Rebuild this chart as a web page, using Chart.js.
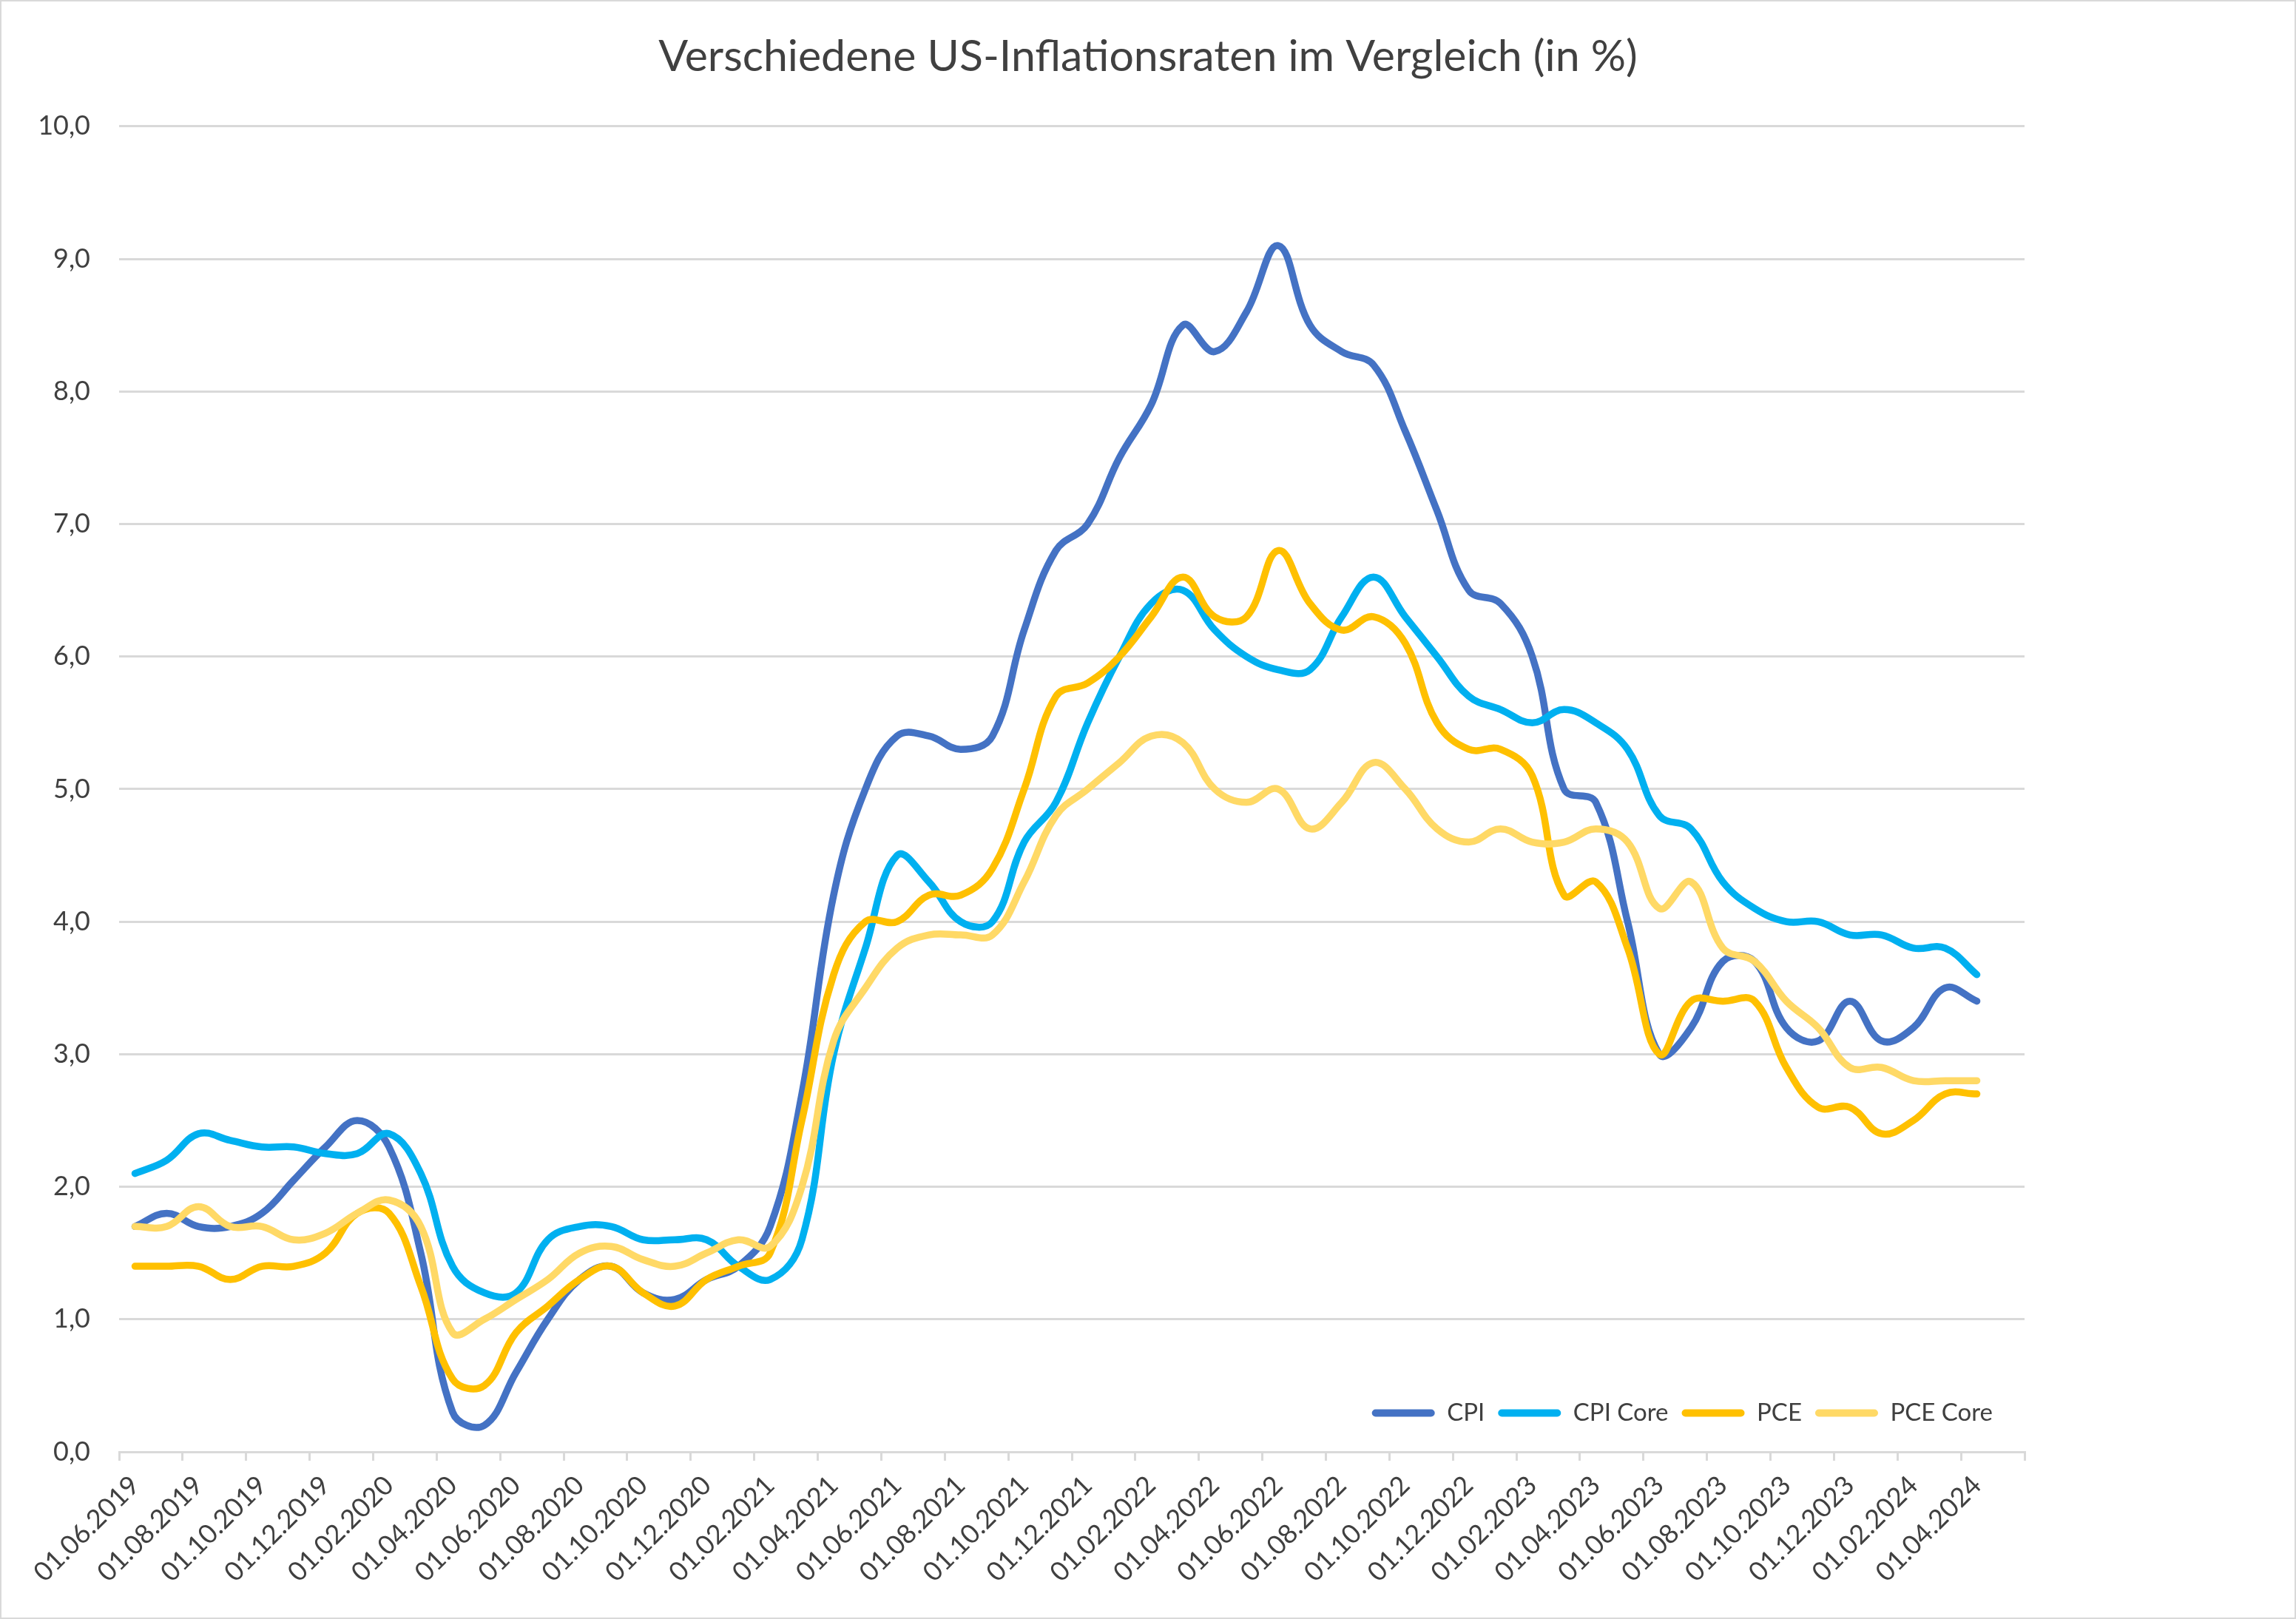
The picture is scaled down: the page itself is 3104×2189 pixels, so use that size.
<!DOCTYPE html>
<html>
<head>
<meta charset="utf-8">
<title>Verschiedene US-Inflationsraten im Vergleich</title>
<script src="https://cdn.jsdelivr.net/npm/chart.js@4.4.1/dist/chart.umd.min.js"></script>
<style>
  html, body { margin: 0; padding: 0; background: #fff; }
  #wrap { position: relative; width: 3104px; height: 2189px; }
  #wrap::after { content: ""; position: absolute; left: 0; top: 0; right: 0; bottom: 0; border: 2px solid #d9d9d9; pointer-events: none; }
  canvas { display: block; }
</style>
</head>
<body>
<div id="wrap"><canvas id="inflationChart" width="3104" height="2189"></canvas></div>
<script>
// Monatswerte Juni 2019 - April 2024, Veraenderung zum Vorjahresmonat in %
const months = [
  '01.06.2019', '01.07.2019', '01.08.2019', '01.09.2019', '01.10.2019', '01.11.2019', '01.12.2019',
  '01.01.2020', '01.02.2020', '01.03.2020', '01.04.2020', '01.05.2020', '01.06.2020',
  '01.07.2020', '01.08.2020', '01.09.2020', '01.10.2020', '01.11.2020', '01.12.2020',
  '01.01.2021', '01.02.2021', '01.03.2021', '01.04.2021', '01.05.2021', '01.06.2021',
  '01.07.2021', '01.08.2021', '01.09.2021', '01.10.2021', '01.11.2021', '01.12.2021',
  '01.01.2022', '01.02.2022', '01.03.2022', '01.04.2022', '01.05.2022', '01.06.2022',
  '01.07.2022', '01.08.2022', '01.09.2022', '01.10.2022', '01.11.2022', '01.12.2022',
  '01.01.2023', '01.02.2023', '01.03.2023', '01.04.2023', '01.05.2023', '01.06.2023',
  '01.07.2023', '01.08.2023', '01.09.2023', '01.10.2023', '01.11.2023', '01.12.2023',
  '01.01.2024', '01.02.2024', '01.03.2024', '01.04.2024', '01.05.2024'
];

const cpi = [
  1.7, 1.8, 1.7, 1.7, 1.8, 2.05, 2.3,
  2.5, 2.3, 1.5, 0.3, 0.2, 0.6, 1.0, 1.3, 1.4, 1.2, 1.15, 1.3,
  1.4, 1.7, 2.7, 4.2, 5.0, 5.4, 5.4, 5.3, 5.4, 6.2, 6.8, 7.0,
  7.5, 7.9, 8.5, 8.3, 8.6, 9.1, 8.5, 8.3, 8.2, 7.7, 7.1, 6.5,
  6.4, 6.0, 5.0, 4.9, 4.0, 3.0, 3.2, 3.7, 3.7, 3.2, 3.1, 3.4,
  3.1, 3.2, 3.5, 3.4
];
const cpiCore = [
  2.1, 2.2, 2.4, 2.35, 2.3, 2.3, 2.25,
  2.25, 2.4, 2.1, 1.4, 1.2, 1.2, 1.6, 1.7, 1.7, 1.6, 1.6, 1.6,
  1.4, 1.3, 1.6, 3.0, 3.8, 4.5, 4.3, 4.0, 4.0, 4.6, 4.9, 5.5,
  6.0, 6.4, 6.5, 6.2, 6.0, 5.9, 5.9, 6.3, 6.6, 6.3, 6.0, 5.7,
  5.6, 5.5, 5.6, 5.5, 5.3, 4.8, 4.7, 4.3, 4.1, 4.0, 4.0, 3.9,
  3.9, 3.8, 3.8, 3.6
];
const pce = [
  1.4, 1.4, 1.4, 1.3, 1.4, 1.4, 1.5,
  1.8, 1.8, 1.25, 0.55, 0.5, 0.9, 1.1, 1.3, 1.4, 1.2, 1.1, 1.3,
  1.4, 1.5, 2.5, 3.6, 4.0, 4.0, 4.2, 4.2, 4.4, 5.0, 5.7, 5.8,
  6.0, 6.3, 6.6, 6.3, 6.3, 6.8, 6.4, 6.2, 6.3, 6.1, 5.5, 5.3,
  5.3, 5.1, 4.2, 4.3, 3.8, 3.0, 3.4, 3.4, 3.4, 2.9, 2.6, 2.6,
  2.4, 2.5, 2.7, 2.7
];
const pceCore = [
  1.7, 1.7, 1.85, 1.7, 1.7, 1.6, 1.65,
  1.8, 1.9, 1.7, 0.9, 1.0, 1.15, 1.3, 1.5, 1.55, 1.45, 1.4, 1.5,
  1.6, 1.55, 2.0, 3.1, 3.5, 3.8, 3.9, 3.9, 3.9, 4.3, 4.8, 5.0,
  5.2, 5.4, 5.35, 5.0, 4.9, 5.0, 4.7, 4.9, 5.2, 5.0, 4.7, 4.6,
  4.7, 4.6, 4.6, 4.7, 4.6, 4.1, 4.3, 3.8, 3.7, 3.4, 3.2, 2.9,
  2.9, 2.8, 2.8, 2.8
];

const seriesNames = ['CPI', 'CPI Core', 'PCE', 'PCE Core'];
const seriesColors = ['#4472C4', '#00B0F0', '#FFC000', '#FFD966'];
const yTicks = [0, 1, 2, 3, 4, 5, 6, 7, 8, 9, 10];

const textColor = '#404040';
const gridColor = '#d9d9d9';

Chart.defaults.font.family = 'Lato, "Open Sans", sans-serif';
Chart.defaults.color = textColor;

function makeSet(i, values) {
  return {
    label: seriesNames[i],
    data: values,
    borderColor: seriesColors[i],
    backgroundColor: seriesColors[i],
    borderWidth: 9.5,
    borderCapStyle: 'round',
    borderJoinStyle: 'round',
    pointRadius: 0,
    pointHoverRadius: 0,
    tension: 0.4,
    fill: false,
    order: 4 - i // spaetere Reihe liegt oben, wie in Excel
  };
}

// Titel ueber die ganze Breite zentrieren, Legende unten rechts im Diagrammbereich
const placeBoxes = {
  id: 'placeBoxes',
  afterLayout(chart) {
    const tb = chart.titleBlock;
    tb.left = 0;
    tb.right = chart.width;
    tb.width = chart.width;

    const lg = chart.legend;
    const area = chart.chartArea;
    lg.left = area.left;
    lg.right = area.right - 25;
    lg.top = area.bottom - 87;
    lg.bottom = lg.top + 60;
    lg.width = lg.right - lg.left;
    lg.height = lg.bottom - lg.top;
  }
};

const ctx = document.getElementById('inflationChart').getContext('2d');
new Chart(ctx, {
  type: 'line',
  data: {
    labels: months,
    datasets: [
      makeSet(0, cpi),
      makeSet(1, cpiCore),
      makeSet(2, pce),
      makeSet(3, pceCore)
    ]
  },
  options: {
    responsive: false,
    animation: false,
    devicePixelRatio: 1,
    layout: { padding: { left: 0, right: 367, top: 0, bottom: 0 } },
    plugins: {
      title: {
        display: true,
        text: 'Verschiedene US-Inflationsraten im Vergleich (in %)',
        color: textColor,
        font: { size: 59, weight: 'normal', lineHeight: 1.2 },
        padding: { top: 42, bottom: 58 }
      },
      legend: {
        display: true,
        position: 'bottom',
        align: 'end',
        maxHeight: 1,
        labels: {
          color: textColor,
          font: { size: 33 },
          boxWidth: 85,
          boxHeight: 10,
          padding: 18,
          generateLabels(chart) {
            const items = Chart.defaults.plugins.legend.labels.generateLabels(chart);
            items.sort((a, b) => a.datasetIndex - b.datasetIndex);
            items.forEach(it => {
              it.fillStyle = seriesColors[it.datasetIndex];
              it.strokeStyle = seriesColors[it.datasetIndex];
              it.lineWidth = 0;
              it.borderRadius = 5;
            });
            return items;
          }
        }
      },
      tooltip: { enabled: false }
    },
    scales: {
      x: {
        type: 'category',
        offset: true,
        afterFit(scale) { scale.height = 225; },
        grid: {
          offset: true,
          drawOnChartArea: false,
          drawTicks: true,
          tickLength: 12,
          lineWidth: 3,
          color: c => (c.index === undefined || c.index % 2 === 0) ? gridColor : 'rgba(0,0,0,0)'
        },
        border: { display: true, color: gridColor, width: 3 },
        ticks: {
          autoSkip: false,
          minRotation: 45,
          maxRotation: 45,
          padding: 12,
          color: textColor,
          font: { size: 36 },
          callback(value, index) {
            return index % 2 === 0 ? this.getLabelForValue(value) : '';
          }
        }
      },
      y: {
        min: yTicks[0],
        max: yTicks[yTicks.length - 1],
        afterFit(scale) { scale.width = 161; },
        afterBuildTicks(scale) { scale.ticks = yTicks.map(v => ({ value: v })); },
        grid: { color: gridColor, lineWidth: 3, drawTicks: false },
        border: { display: false },
        ticks: {
          padding: 39,
          color: textColor,
          font: { size: 36 },
          callback: v => v.toFixed(1).replace('.', ',')
        }
      }
    }
  },
  plugins: [placeBoxes]
});
</script>
</body>
</html>
